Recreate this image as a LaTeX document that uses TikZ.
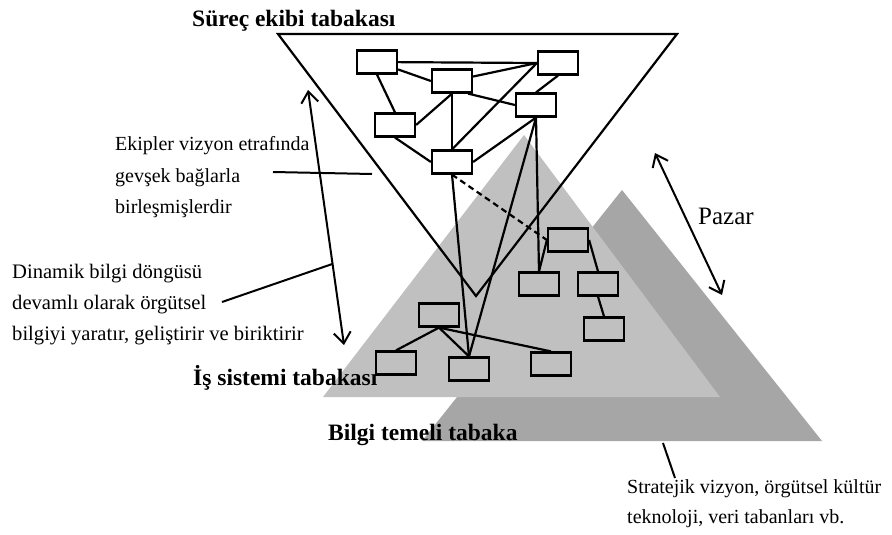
\documentclass[tikz,border=0pt]{standalone}
\usepackage{fontspec}
\setmainfont{Liberation Serif}
\usetikzlibrary{arrows.meta,calc}
\definecolor{lightlayer}{RGB}{192,192,192}
\definecolor{darklayer}{RGB}{166,166,166}

\begin{document}
\begin{tikzpicture}[x=1pt,y=-1pt,
  net/.style={line width=2.2pt},
  unit/.style={draw, line width=2.2pt, minimum width=40pt, minimum height=23pt,
    inner sep=0pt, fill=white},
  lowunit/.style={unit, fill=lightlayer},
  txt/.style={font=\fontsize{20}{24}\selectfont, anchor=base west, inner sep=0pt},
  heading/.style={font=\fontsize{23.5}{28}\selectfont\bfseries, anchor=base west, inner sep=0pt},
  twoway/.style={line width=2pt,
    {Straight Barb[length=11pt,width=17pt,line width=2pt]}-{Straight Barb[length=11pt,width=17pt,line width=2pt]}},
  lead/.style={line width=2pt}]
\useasboundingbox (0,0) rectangle (892,535);

% knowledge base layer and business system layer
\fill[darklayer] (622,190) -- (822,441) -- (422,441) -- cycle;
\fill[lightlayer] (524,135) -- (720,397) -- (323,397) -- cycle;

% project team layer (inverted triangle)
\draw[line width=2.2pt, line join=miter] (278,34) -- (677,34) -- (476,296) -- cycle;

% text labels
\node[heading] (tTeam) at (192,27) {Süreç ekibi tabakası};
\node[heading] (tBiz) at (193,385) {İş sistemi tabakası};
\node[heading] (tBase) at (328,440) {Bilgi temeli tabaka};

\node[txt] (ek1) at (115,150) {Ekipler vizyon etrafında};
\node[txt] (ek2) at (115,182) {gevşek bağlarla};
\node[txt] (ek3) at (115,213) {birleşmişlerdir};

\node[txt, font=\fontsize{20.6}{24}\selectfont] (dn1) at (12,278) {Dinamik bilgi döngüsü};
\node[txt, font=\fontsize{20.6}{24}\selectfont] (dn2) at (12,309) {devamlı olarak örgütsel};
\node[txt, font=\fontsize{20.6}{24}\selectfont] (dn3) at (12,340) {bilgiyi yaratır, geliştirir ve biriktirir};

\node[txt, font=\fontsize{25}{30}\selectfont] (pz) at (698,224) {Pazar};

\node[txt] (st1) at (627,493) {Stratejik vizyon, örgütsel kültür};
\node[txt] (st2) at (627,523) {teknoloji, veri tabanları vb.};

% double-headed arrows
\coordinate (cycTop) at (308,90);
\coordinate (cycBot) at (344,345);
\draw[twoway] (cycTop) -- (cycBot);
\coordinate (mkTop) at (655,153);
\coordinate (mkBot) at (722,295);
\draw[twoway] (mkTop) -- (mkBot);

% leader lines
\coordinate (ekFrom) at (273,172);
\coordinate (ekTo) at (372,174);
\draw[lead] (ekFrom) -- (ekTo);
\coordinate (dnFrom) at (222,302);
\coordinate (dnTo) at ($(cycTop)!0.682!(cycBot)$);
\draw[lead] (dnFrom) -- (dnTo);
\coordinate (stFrom) at (663,443);
\coordinate (stTo) at (675,478);
\draw[lead] (stFrom) -- (stTo);

% team units
\node[unit] (A) at (377,62) {};
\node[unit] (B) at (452,81) {};
\node[unit] (C) at (558,63) {};
\node[unit] (D) at (536,105) {};
\node[unit] (E) at (395,125) {};
\node[unit] (F) at (452,162) {};

% business system units
\node[lowunit] (G) at (568,240) {};
\node[lowunit] (H) at (539,284) {};
\node[lowunit] (I) at (598,284) {};
\node[lowunit] (J) at (604,329) {};
\node[lowunit] (K) at (439,315) {};
\node[lowunit] (L) at (396,363) {};
\node[lowunit] (M) at (469,369) {};
\node[lowunit] (N) at (551,364) {};

% links
\draw[net] (A) -- (C.west);
\draw[net] (A) -- (B.west);
\draw[net] (A.south) -- (E.north);
\draw[net] (B) -- (C.west);
\draw[net] (C.west) -- (F.north);
\draw[net] (C.south) -- (D.north);
\draw[net] (B.south) -- (E.east);
\draw[net] (B.south) -- (F.north);
\draw[net] ([xshift=-5pt]B.south east) -- (D.west);
\draw[net] (D.south) -- (F.east);
\draw[net] (E.south) -- (F.west);
\draw[net] (D.south) -- (H.north);
\draw[net] (D.south) -- (M.north);
\draw[net] (F.south) -- (M.north);
\draw[net, dashed, dash pattern=on 6pt off 4pt] (F.south) -- (G.west);
\draw[net] (G.west) -- (H.north);
\draw[net] (G.east) -- (I.north);
\draw[net] (I.south) -- (J.north);
\draw[net] (K.south) -- (L.north);
\draw[net] (K.south) -- (M.north);
\draw[net] (K.south) -- (N.north);
\end{tikzpicture}
\end{document}
